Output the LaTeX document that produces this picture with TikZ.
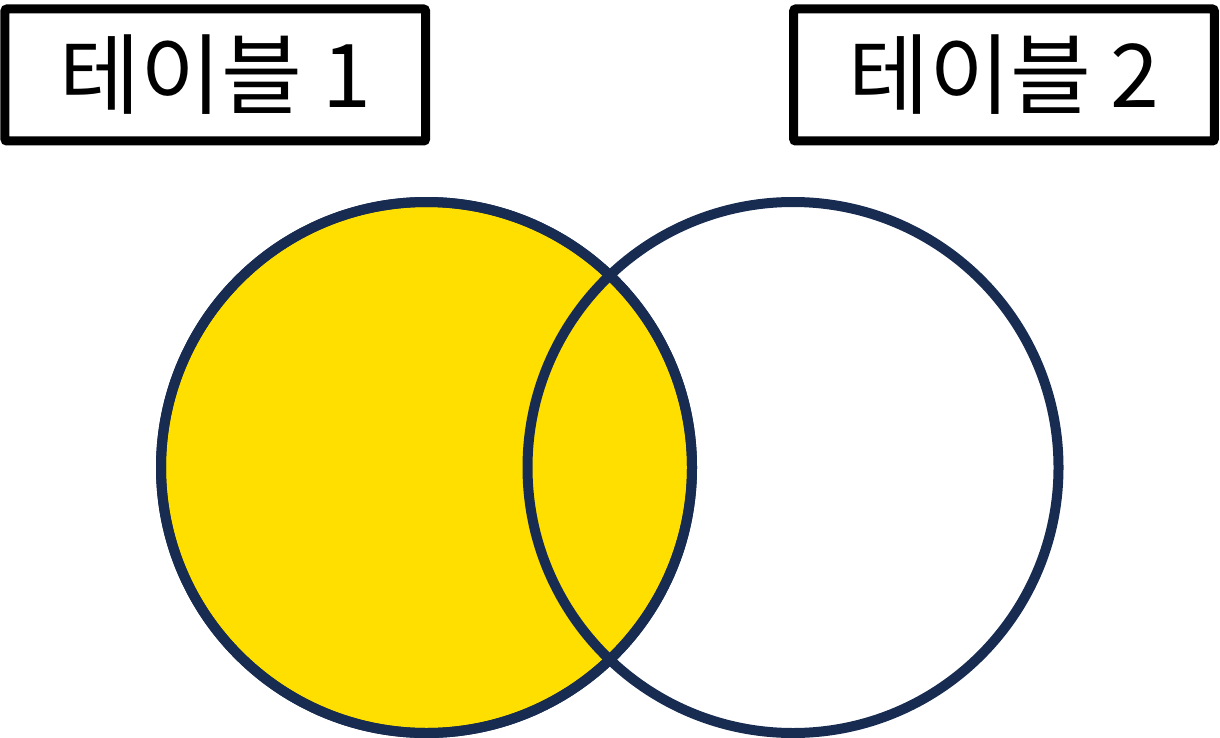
\documentclass[tikz,border=0pt]{standalone}
\usepackage{fontspec}
\newfontfamily\krfont{Noto Sans CJK KR}
\definecolor{vnavy}{RGB}{24,44,82}
\definecolor{vyellow}{RGB}{255,223,0}
\begin{document}
\begin{tikzpicture}[x=0.75pt,y=-0.75pt,
  tablebox/.style={draw=black,line width=6.75pt,rounded corners=1.5pt,fill=white,
    minimum width=315.4pt,minimum height=99pt,inner sep=0pt,
    font=\krfont\fontsize{66}{74}\selectfont},
  setcircle/.style={circle,draw=vnavy,line width=7.5pt,minimum size=398.25pt,inner sep=0pt}]
\useasboundingbox (0,0) rectangle (1220,738);
\node[tablebox] (t1) at (215.25,75) {테이블 1};
\node[tablebox] (t2) at (1004,75) {테이블 2};
\node[setcircle,fill=vyellow] (a) at (426.5,467.5) {};
\node[setcircle] (b) at (793,467.5) {};
\draw[vnavy,line width=7.5pt] (a) circle[radius=199.125pt];
\end{tikzpicture}
\end{document}
